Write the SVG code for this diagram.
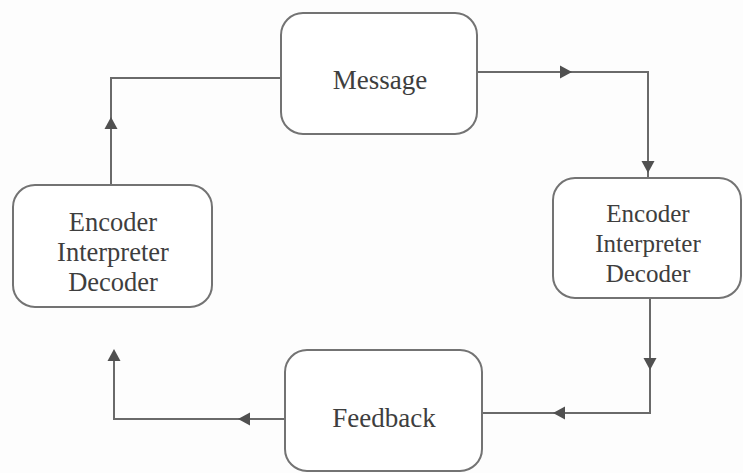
<svg xmlns="http://www.w3.org/2000/svg" xmlns:xlink="http://www.w3.org/1999/xlink" width="743" height="473" viewBox="0 0 743 473">
<style>
.box{fill:#ffffff;stroke:#737373;stroke-width:2}
.lbl{font-family:"Liberation Serif","Times New Roman",serif;font-size:25px;fill:#3e3e3e;text-anchor:middle}
.big{font-size:27px}
.mid{font-size:26.5px}
.ln{fill:none;stroke:#6a6a6a;stroke-width:2}
.ah{fill:#505050}
</style>
<defs>
<polygon id="ah" class="ah" points="0,0 -12,-6.5 -12,6.5"/>
</defs>
<rect width="743" height="473" fill="#fdfdfd"/>
<g id="connectors">
<polyline class="ln" points="111,185 111,78 281,78"/>
<polyline class="ln" points="477,72 648,72 648,178"/>
<polyline class="ln" points="650,298 650,413 482,413"/>
<polyline class="ln" points="285,419 114,419 114,352"/>
<use xlink:href="#ah" transform="translate(111,117) rotate(-90)"/>
<use xlink:href="#ah" transform="translate(572,72)"/>
<use xlink:href="#ah" transform="translate(648,173) rotate(90)"/>
<use xlink:href="#ah" transform="translate(650,370) rotate(90)"/>
<use xlink:href="#ah" transform="translate(553,413) rotate(180)"/>
<use xlink:href="#ah" transform="translate(238,419) rotate(180)"/>
<use xlink:href="#ah" transform="translate(114,349) rotate(-90)"/>
</g>
<g id="message">
<rect class="box" x="281" y="13" width="196" height="121" rx="22"/>
<text class="lbl big" x="380" y="89">Message</text>
</g>
<g id="left-node">
<rect class="box" x="13" y="185" width="199" height="122" rx="22"/>
<text class="lbl mid" x="113" y="231">Encoder</text>
<text class="lbl mid" x="113" y="261">Interpreter</text>
<text class="lbl mid" x="113" y="291">Decoder</text>
</g>
<g id="right-node">
<rect class="box" x="553" y="178" width="188" height="120" rx="22"/>
<text class="lbl" x="648" y="222">Encoder</text>
<text class="lbl" x="648" y="252">Interpreter</text>
<text class="lbl" x="648" y="282">Decoder</text>
</g>
<g id="feedback">
<rect class="box" x="285" y="350" width="197" height="121" rx="22"/>
<text class="lbl big" x="384" y="427">Feedback</text>
</g>
</svg>
